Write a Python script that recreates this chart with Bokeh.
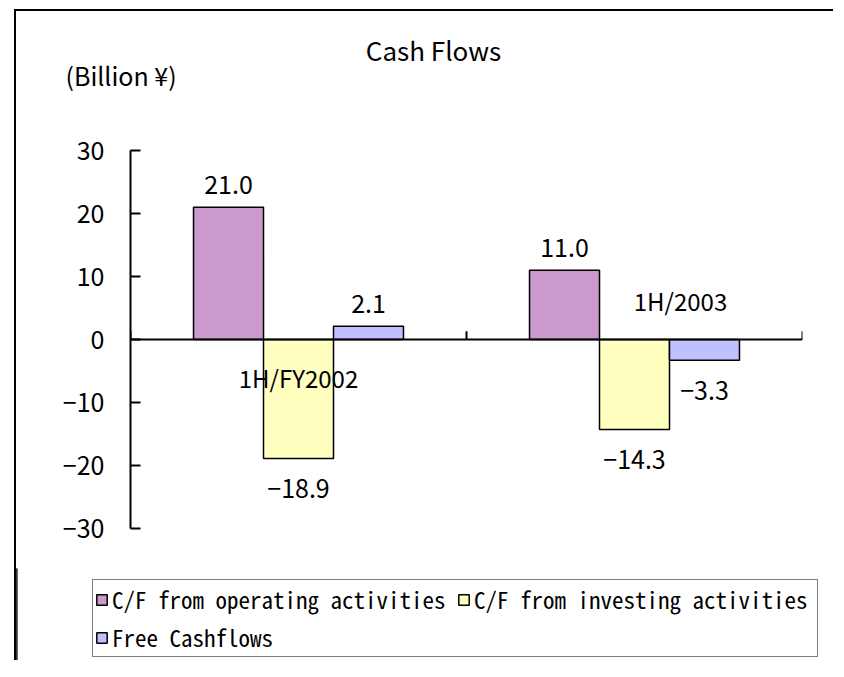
from bokeh.plotting import figure
from bokeh.models import (ColumnDataSource, FactorRange, Range1d, Span, Legend, LegendItem,
                          Label, FixedTicker)
from bokeh.transform import dodge
from bokeh.core.properties import value
from bokeh.embed import file_html
from bokeh.resources import INLINE

# ---- data ----
periods = ["1H/FY2002", "1H/2003"]
series_names = ["C/F from operating activities", "C/F from investing activities", "Free Cashflows"]
operating = [21.0, 11.0]
investing = [-18.9, -14.3]
free_cf = [2.1, -3.3]
y_ticks = [-30, -20, -10, 0, 10, 20, 30]
colors = ["#CC99CC", "#FFFFC0", "#C0C0FF"]
title_text = "Cash Flows"
unit_text = "(Billion \u00a5)"

FONT = "Noto Sans CJK JP"
MONO = "Noto Sans Mono CJK JP, Noto Sans CJK JP"
W = 819

def fmt(v):
    return f"{v:.1f}".replace("-", "\u2212")

def blank(h):
    f = figure(width=W, height=h, output_backend="svg", toolbar_location=None, title=None,
               x_range=Range1d(0, 1), y_range=Range1d(0, 1),
               x_axis_location=None, y_axis_location=None,
               min_border_left=0, min_border_right=0, min_border_top=0, min_border_bottom=0)
    f.outline_line_color = None
    f.xgrid.visible = False
    f.ygrid.visible = False
    f.border_fill_color = "white"
    return f

# ---- header: title and unit ----
head = blank(109)
head.add_layout(Label(x=417, y=71, x_units="screen", y_units="screen", text=title_text,
                      text_align="center", text_baseline="middle", text_font=FONT,
                      text_font_size="26px", text_color="black"))
head.add_layout(Label(x=49, y=46, x_units="screen", y_units="screen", text=unit_text,
                      text_align="left", text_baseline="middle", text_font=FONT,
                      text_font_size="25px", text_color="black"))

# ---- chart ----
p = figure(width=W, height=450, output_backend="svg", toolbar_location=None, title=None,
           x_range=FactorRange(factors=periods, range_padding=0),
           y_range=Range1d(-30, 30), x_axis_location=None,
           min_border_left=114, min_border_right=33, min_border_top=32, min_border_bottom=40)
p.outline_line_color = None
p.xgrid.visible = False
p.ygrid.visible = False
p.border_fill_color = "white"

ax = p.yaxis[0]
ax.ticker = FixedTicker(ticks=y_ticks)
ax.major_label_overrides = {t: str(t).replace("-", "\u2212") for t in y_ticks}
ax.major_tick_in = 10
ax.major_tick_out = 0
ax.minor_tick_line_color = None
ax.axis_line_width = 2
ax.major_tick_line_width = 2
ax.major_label_text_font = FONT
ax.major_label_text_font_size = "25px"
ax.major_label_text_color = "black"
ax.major_label_standoff = 26

p.add_layout(Span(location=0, dimension="width", line_color="black", line_width=2))
p.segment(x0=[0, 1, 2], y0=[0, 0, 0], x1=[0, 1, 2], y1=[1.3, 1.3, 1.3],
          line_color="black", line_width=2)

width = 0.2083
offsets = [-width, 0.0, width]
values_all = [operating, investing, free_cf]
for name, vals, off, col in zip(series_names, values_all, offsets, colors):
    src = ColumnDataSource(dict(
        period=periods, value=vals,
        label=[fmt(v) for v in vals],
        yoff=[-23 if v >= 0 else 30 for v in vals]))
    p.vbar(x=dodge("period", off, range=p.x_range), top="value", bottom=0, width=width,
           source=src, fill_color=col, line_color="black", line_width=1.5)
    p.text(x=dodge("period", off, range=p.x_range), y="value", text="label", source=src,
           y_offset="yoff", text_align="center", text_baseline="middle",
           text_font=value(FONT), text_font_size="25px", text_color="black")

cat_src = ColumnDataSource(dict(period=periods, y=[0, 0], xo=[0, 46], yo=[38, -39]))
p.text(x="period", y="y", text="period", source=cat_src, x_offset="xo", y_offset="yo",
       text_align="center", text_baseline="middle", text_font=value(FONT),
       text_font_size="24px", text_color="black")

# ---- legend strip (swatch proxies sit outside the visible range) ----
leg = blank(92)
items = []
for name, col in zip(series_names, colors):
    r = leg.vbar(x=[-5], top=[1], bottom=0, width=0.1, fill_color=col,
                 line_color="black", line_width=1.5)
    items.append(LegendItem(label=name, renderers=[r]))
legend = Legend(items=items, location=(76, 3), orientation="horizontal", ncols=2,
                label_text_font=MONO, label_text_font_size="23px", label_text_color="black",
                label_height=26, label_width=341, glyph_width=13, glyph_height=13,
                label_standoff=4, padding=2, spacing=4, margin=0,
                border_line_color="black", border_line_width=1.5,
                background_fill_color="white", background_fill_alpha=1)
leg.add_layout(legend)

head.margin = (9, 0, 0, 14)
p.margin = (0, 0, 0, 14)
leg.margin = (0, 0, 0, 14)
head.styles = {"border-left": "2px solid black", "border-top": "2px solid black"}
p.styles = {"border-left": "2px solid black"}
leg.styles = {"border-left": "2px solid black"}

open("out.html", "w").write(file_html([head, p, leg], INLINE))
